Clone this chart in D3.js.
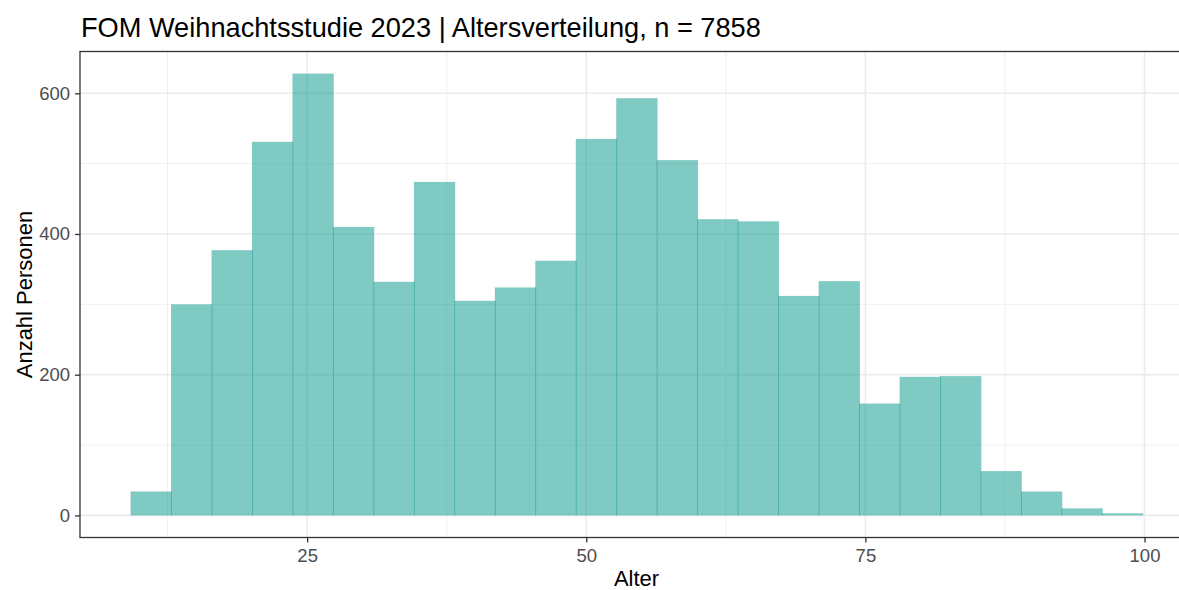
<!DOCTYPE html>
<html>
<head>
<meta charset="utf-8">
<script src="https://cdn.jsdelivr.net/npm/d3@7"></script>
<style>
  body { margin: 0; background: #fff; }
  text { font-family: "Liberation Sans", Arial, sans-serif; }
</style>
</head>
<body>
<div id="chart"></div>
<script>
// Histogram bins (Alter) and counts
const binEdges = [9.1875, 12.8125, 16.4375, 20.0625, 23.6875, 27.3125, 30.9375, 34.5625, 38.1875,
                  41.8125, 45.4375, 49.0625, 52.6875, 56.3125, 59.9375, 63.5625, 67.1875, 70.8125,
                  74.4375, 78.0625, 81.6875, 85.3125, 88.9375, 92.5625, 96.1875, 99.8125];
const counts = [34, 300, 377, 531, 628, 410, 332, 474, 305, 324, 362, 535, 593,
                505, 421, 418, 312, 333, 159, 197, 198, 63, 34, 10, 3];
const xTicks = [25, 50, 75, 100];
const xMinor = [12.5, 37.5, 62.5, 87.5];
const yTicks = [0, 200, 400, 600];
const yMinor = [100, 300, 500];

const width = 1179;
const height = 590;
const panel = { left: 80, right: 1193, top: 51.5, bottom: 537.5 };

const svg = d3.select('#chart').append('svg').attr('width', width).attr('height', height);

// ggplot-like 5% expansion
const xLo = binEdges[0], xHi = binEdges[binEdges.length - 1];
const xPad = (xHi - xLo) * 0.05;
const x = d3.scaleLinear().domain([xLo - xPad, xHi + xPad]).range([panel.left, panel.right]);
const yMax = d3.max(counts);
const y = d3.scaleLinear().domain([-yMax * 0.05, yMax * 1.05]).range([panel.bottom, panel.top]);

const bins = counts.map((c, i) => ({ x0: binEdges[i], x1: binEdges[i + 1], n: c }));

const plot = svg.append('g');

// grid
plot.selectAll('.minor-x').data(xMinor).enter().append('line')
  .attr('x1', d => x(d)).attr('x2', d => x(d))
  .attr('y1', panel.top).attr('y2', panel.bottom)
  .attr('stroke', '#ebebeb').attr('stroke-width', 0.8);
plot.selectAll('.minor-y').data(yMinor).enter().append('line')
  .attr('x1', panel.left).attr('x2', panel.right)
  .attr('y1', d => y(d)).attr('y2', d => y(d))
  .attr('stroke', '#ebebeb').attr('stroke-width', 0.8);
plot.selectAll('.major-x').data(xTicks).enter().append('line')
  .attr('x1', d => x(d)).attr('x2', d => x(d))
  .attr('y1', panel.top).attr('y2', panel.bottom)
  .attr('stroke', '#ebebeb').attr('stroke-width', 1.6);
plot.selectAll('.major-y').data(yTicks).enter().append('line')
  .attr('x1', panel.left).attr('x2', panel.right)
  .attr('y1', d => y(d)).attr('y2', d => y(d))
  .attr('stroke', '#ebebeb').attr('stroke-width', 1.6);

// bars (slight overlap so the seams look like the original)
plot.selectAll('rect.bar').data(bins).enter().append('rect')
  .attr('class', 'bar')
  .attr('x', d => x(d.x0))
  .attr('width', d => x(d.x1) - x(d.x0) + 0.8)
  .attr('y', d => y(d.n))
  .attr('height', d => y(0) - y(d.n))
  .attr('fill', '#009688')
  .attr('fill-opacity', 0.5);

// panel border
plot.append('rect')
  .attr('x', panel.left).attr('y', panel.top)
  .attr('width', panel.right - panel.left).attr('height', panel.bottom - panel.top)
  .attr('fill', 'none').attr('stroke', '#333333').attr('stroke-width', 1.3);

// axes
const xAxis = d3.axisBottom(x).tickValues(xTicks).tickSize(5).tickPadding(6);
const yAxis = d3.axisLeft(y).tickValues(yTicks).tickSize(5).tickPadding(5);

const gx = svg.append('g').attr('transform', `translate(0,${panel.bottom})`).call(xAxis);
const gy = svg.append('g').attr('transform', `translate(${panel.left},0)`).call(yAxis);
[gx, gy].forEach(g => {
  g.select('.domain').remove();
  g.selectAll('line').attr('stroke', '#333333').attr('stroke-width', 1.3);
  g.selectAll('text').attr('fill', '#4d4d4d').style('font-size', '18.5px')
    .style('font-family', '"Liberation Sans", Arial, sans-serif');
});

// titles
svg.append('text')
  .attr('x', 81).attr('y', 37)
  .style('font-size', '27.2px').attr('fill', '#000')
  .text('FOM Weihnachtsstudie 2023 | Altersverteilung, n = 7858');

svg.append('text')
  .attr('x', (panel.left + panel.right) / 2).attr('y', 585.5)
  .attr('text-anchor', 'middle')
  .style('font-size', '22px').attr('fill', '#000')
  .text('Alter');

svg.append('text')
  .attr('transform', `translate(32,${(panel.top + panel.bottom) / 2}) rotate(-90)`)
  .attr('text-anchor', 'middle')
  .style('font-size', '22px').attr('fill', '#000')
  .text('Anzahl Personen');
</script>
</body>
</html>
